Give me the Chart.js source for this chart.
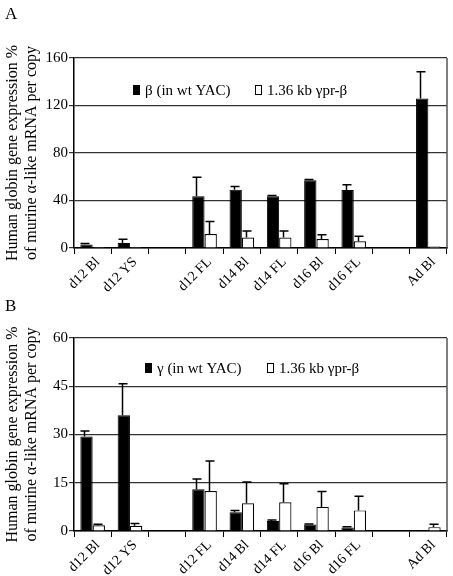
<!DOCTYPE html>
<html>
<head>
<meta charset="utf-8">
<script src="https://cdn.jsdelivr.net/npm/chart.js@4.4.0/dist/chart.umd.min.js"></script>
<style>
  body { margin: 0; background: #fff; width: 453px; height: 576px; overflow: hidden; }
  .panel { position: relative; width: 453px; }
  .tag { position: absolute; left: 5px; font: 17px 'Liberation Serif', serif; color: #000; }
  canvas { display: block; }
</style>
</head>
<body>
<div class="panel"><div class="tag" style="top:4px">A</div><canvas id="chartA" width="453" height="292"></canvas></div>
<div class="panel"><div class="tag" style="top:4px">B</div><canvas id="chartB" width="453" height="284"></canvas></div>
<script>
// categories (blank slots are the gaps between groups)
const categories = ['d12 Bl', 'd12 YS', '', 'd12 FL', 'd14 Bl', 'd14 FL', 'd16 Bl', 'd16 FL', '', 'Ad Bl']

// panel A: human beta globin
const betaWt = [3, 4.2, null, 43.5, 49, 43.5, 57, 48.8, null, 126]
const betaWtErr = [0.7, 3.2, null, 16, 2.8, 0.8, 0.6, 4.5, null, 22.5]
const gprBetaA = [0.8, 0.8, null, 11.8, 8.8, 8.8, 7.5, 5.6, null, 1.2]
const gprBetaAErr = [null, null, null, 10.5, 5.6, 5.6, 3.6, 4.2, null, null]
const ticksA = [0, 40, 80, 120, 160]

// panel B: human gamma globin
const gammaWt = [29.4, 36, null, 13, 5.8, 3.1, 2, 1.1, null, 0]
const gammaWtErr = [1.7, 9.8, null, 3.2, 0.6, 0.3, 0.2, 0.2, null, null]
const gprBetaB = [1.8, 1.6, null, 12.4, 8.6, 8.9, 7.5, 6.4, null, 1.2]
const gprBetaBErr = [0.3, 0.7, null, 9.4, 6.6, 5.8, 4.8, 4.4, null, 0.9]
const ticksB = [0, 15, 30, 45, 60]

const yTitle = ['Human globin gene expression %', 'of murine \u03b1-like mRNA per copy']

Chart.defaults.font.family = "'Liberation Serif', 'Times New Roman', serif"
Chart.defaults.color = '#000'

// error bars drawn above each bar, using the y scale
const errorBars = {
  id: 'errorBars',
  afterDatasetsDraw(chart) {
    const ctx = chart.ctx
    const y = chart.scales.y
    chart.data.datasets.forEach((ds, i) => {
      if (!ds.err) return
      chart.getDatasetMeta(i).data.forEach((bar, j) => {
        const v = ds.data[j], e = ds.err[j]
        if (v == null || e == null) return
        const top = y.getPixelForValue(v + e)
        const x = Math.round(bar.x) - 1.5
        ctx.save()
        ctx.strokeStyle = '#000'
        ctx.lineWidth = 1.5
        ctx.beginPath()
        ctx.moveTo(x, bar.y)
        ctx.lineTo(x, top)
        ctx.moveTo(x - 4, top)
        ctx.lineTo(x + 5, top)
        ctx.stroke()
        ctx.restore()
      })
    })
  }
}

// frame on the right side + legend inside the plot
const frameAndLegend = {
  id: 'frameAndLegend',
  afterDraw(chart, args, opts) {
    const ctx = chart.ctx
    const a = chart.chartArea
    ctx.save()
    ctx.strokeStyle = '#555'
    ctx.lineWidth = 1.5
    ctx.beginPath()
    ctx.moveTo(a.right, a.top)
    ctx.lineTo(a.right, a.bottom)
    ctx.stroke()

    ctx.font = "15px 'Liberation Serif', serif"
    ctx.textBaseline = 'middle'
    const ly = a.top + opts.dy
    let lx = a.left + opts.dx
    chart.data.datasets.forEach((ds, i) => {
      if (i === 1) lx = a.left + opts.dx2
      ctx.fillStyle = ds.backgroundColor
      ctx.strokeStyle = '#000'
      ctx.lineWidth = 1
      ctx.fillRect(lx + 0.5, ly - 4.5, 6, 9)
      ctx.strokeRect(lx + 0.5, ly - 4.5, 6, 9)
      ctx.fillStyle = '#000'
      ctx.fillText(ds.label, lx + 12, ly + 1)
    })
    ctx.restore()
  }
}

function makeChart(id, wt, wtErr, gpr, gprErr, wtLabel, ticks, layout) {
  const ctx = document.getElementById(id)
  return new Chart(ctx, {
    type: 'bar',
    data: {
      labels: categories,
      datasets: [
        { label: wtLabel, data: wt, err: wtErr, backgroundColor: '#000', borderColor: '#000', borderWidth: 1 },
        { label: '1.36 kb \u03b3pr-\u03b2', data: gpr, err: gprErr, backgroundColor: '#fff', borderColor: '#000', borderWidth: 1.2 }
      ]
    },
    options: {
      responsive: false,
      animation: false,
      layout: { padding: { top: layout.top, right: 6, left: 0, bottom: 0 } },
      categoryPercentage: 0.66,
      barPercentage: 1,
      scales: {
        x: {
          afterFit: (s) => { s.height = layout.xh },
          grid: { offset: true, drawOnChartArea: false, drawTicks: true, tickLength: 6, color: '#000' },
          border: { color: '#000', width: 1.5 },
          ticks: { font: { size: 14 }, maxRotation: 45, minRotation: 45, padding: 0, labelOffset: 5, autoSkip: false }
        },
        y: {
          min: 0,
          max: ticks[ticks.length - 1],
          afterFit: (s) => { s.width = 74 },
          afterBuildTicks: (s) => { s.ticks = ticks.map(v => ({ value: v })) },
          grid: { color: '#333', lineWidth: 1.2, tickLength: 5 },
          border: { color: '#000', width: 1.5 },
          ticks: { font: { size: 15 }, padding: 1 },
          title: { display: true, text: yTitle, font: { size: 16 }, padding: { top: 3, bottom: 0 } }
        }
      },
      plugins: {
        legend: { display: false },
        tooltip: { enabled: false },
        frameAndLegend: layout.legend
      }
    },
    plugins: [errorBars, frameAndLegend]
  })
}

makeChart('chartA', betaWt, betaWtErr, gprBetaA, gprBetaAErr, '\u03b2 (in wt YAC)', ticksA,
  { top: 58, xh: 44, legend: { dx: 59, dx2: 181, dy: 32 } })
makeChart('chartB', gammaWt, gammaWtErr, gprBetaB, gprBetaBErr, '\u03b3 (in wt YAC)', ticksB,
  { top: 46, xh: 45, legend: { dx: 71, dx2: 193, dy: 30 } })
</script>
</body>
</html>
